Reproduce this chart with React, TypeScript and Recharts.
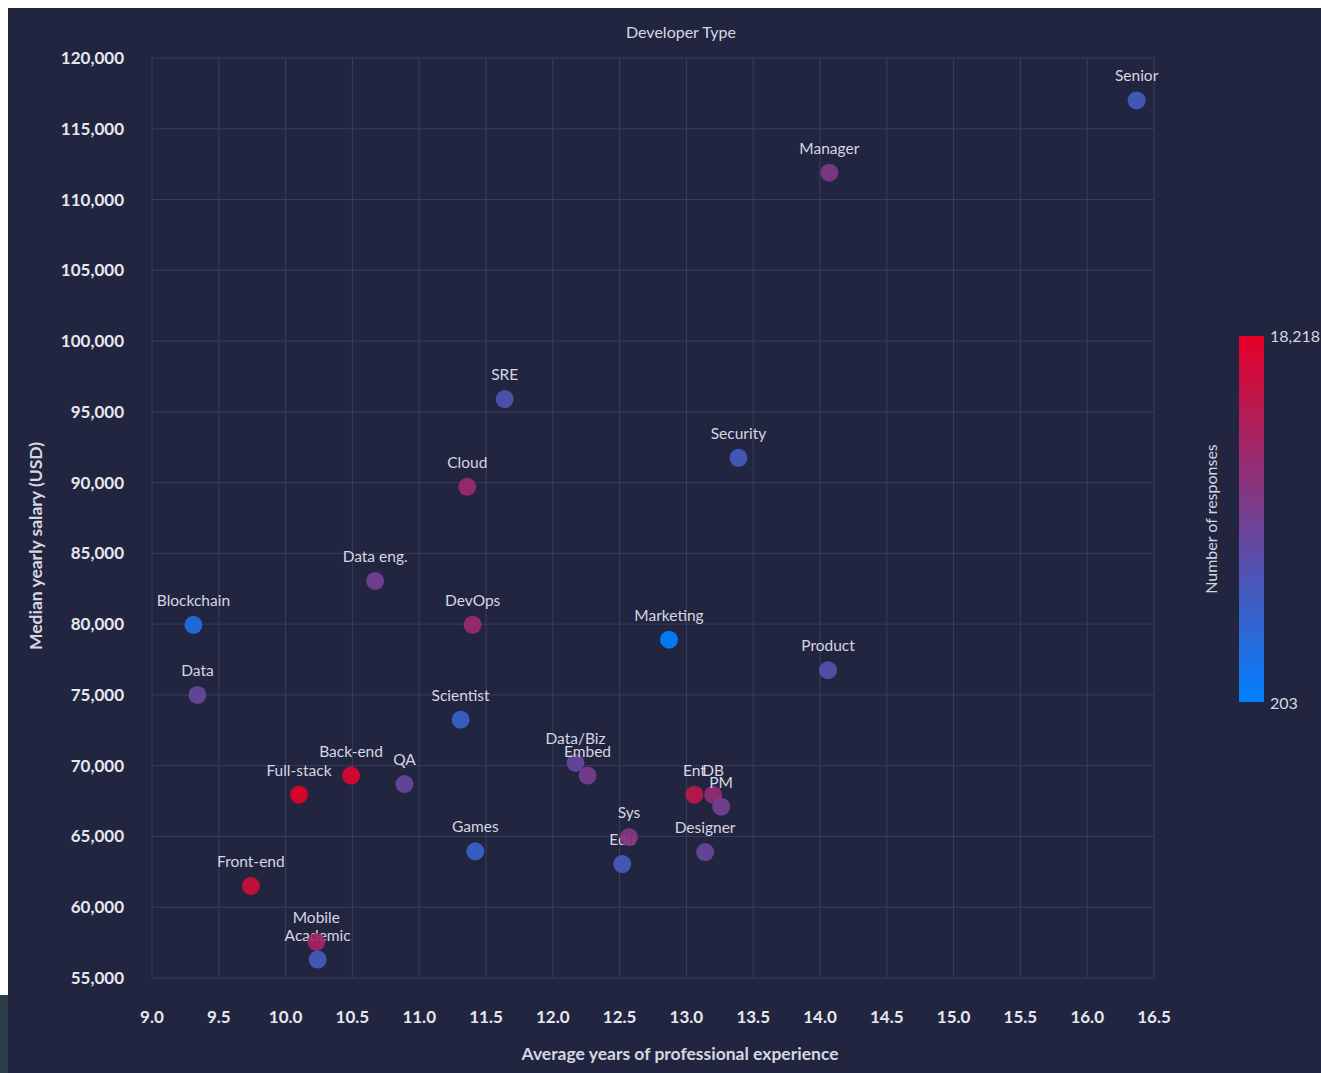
import React from "react";
import { ScatterChart, Scatter, XAxis, YAxis, CartesianGrid } from "recharts";

const names = [
  "Senior", "Manager", "SRE", "Security", "Cloud", "Data eng.", "Blockchain", "DevOps",
  "Marketing", "Product", "Data", "Scientist", "Data/Biz", "Embed", "Back-end", "QA",
  "Full-stack", "DB", "Ent", "PM", "Edu", "Sys", "Designer", "Games", "Front-end",
  "Academic", "Mobile",
];
const years = [
  16.37, 14.07, 11.64, 13.39, 11.36, 10.67, 9.31, 11.4,
  12.87, 14.06, 9.34, 11.31, 12.17, 12.26, 10.49, 10.89,
  10.1, 13.2, 13.06, 13.26, 12.52, 12.57, 13.14, 11.42, 9.74,
  10.24, 10.23,
];
const salaries = [
  117000, 111900, 95900, 91750, 89700, 83050, 79950, 79950,
  78900, 76750, 75000, 73250, 70200, 69300, 69300, 68700,
  67950, 67950, 67950, 67100, 63050, 64950, 63900, 63950, 61500,
  56300, 57550,
];
const responses = [
  5600, 10100, 6500, 5600, 12450, 9200, 2550, 12450,
  203, 7050, 8300, 4700, 8300, 9570, 17500, 8300,
  18218, 11900, 14975, 9200, 5600, 10650, 8300, 4700, 16400,
  5600, 13170,
];
const xTicks = [9.0, 9.5, 10.0, 10.5, 11.0, 11.5, 12.0, 12.5, 13.0, 13.5, 14.0, 14.5, 15.0, 15.5, 16.0, 16.5];
const yTicks = [55000, 60000, 65000, 70000, 75000, 80000, 85000, 90000, 95000, 100000, 105000, 110000, 115000, 120000];
const minResponses = 203;
const maxResponses = 18218;

const data = names.map((n, i) => ({ name: n, x: years[i], y: salaries[i], count: responses[i] }));

const LOW = [0, 128, 255];
const HIGH = [230, 0, 38];
function colorFor(count: number) {
  const t = Math.max(0, Math.min(1, (count - minResponses) / (maxResponses - minResponses)));
  const c = LOW.map((l, i) => Math.round(l + (HIGH[i] - l) * t));
  return `rgb(${c[0]},${c[1]},${c[2]})`;
}

const FONT = "Lato, 'Noto Sans', sans-serif";
const BG = "#22253f";
const GRID = "#3a3e5c";

const PointShape = (props: any) => {
  const { cx, cy, payload } = props;
  if (cx == null || cy == null) return null;
  return (
    <g>
      <circle cx={cx} cy={cy} r={9} fill={colorFor(payload.count)} fillOpacity={0.92} />
      <text x={cx} y={cy - 19} textAnchor="middle" fill="#d6d7e0" fontSize={15.5} fontFamily={FONT}>
        {payload.name}
      </text>
    </g>
  );
};

export default function App() {
  return (
    <>
      <div style={{ position: "absolute", left: 8, top: 8, width: 1313, height: 1065, background: BG, fontFamily: FONT, overflow: "hidden" }}>
        <ScatterChart width={1313} height={1065} margin={{ top: 50, right: 167, bottom: 0, left: 0 }}>
          <CartesianGrid stroke={GRID} strokeWidth={1} />
          <XAxis
            type="number"
            dataKey="x"
            domain={[9, 16.5]}
            ticks={xTicks}
            tickFormatter={(v: number) => v.toFixed(1)}
            height={95}
            axisLine={false}
            tickLine={false}
            tickSize={0}
            tickMargin={33}
            tick={{ fill: "#e6e7ee", fontSize: 17, fontWeight: 700, fontFamily: FONT }}
          />
          <YAxis
            type="number"
            dataKey="y"
            domain={[55000, 120000]}
            ticks={yTicks}
            tickFormatter={(v: number) => v.toLocaleString("en-US")}
            width={144}
            axisLine={false}
            tickLine={false}
            tickSize={0}
            tickMargin={28}
            tick={{ fill: "#e6e7ee", fontSize: 17, fontWeight: 700, fontFamily: FONT }}
          />
          <Scatter data={data} shape={PointShape} isAnimationActive={false} />
        </ScatterChart>

        <div style={{ position: "absolute", left: 673, top: 23, transform: "translate(-50%,-50%)", color: "#d6d7e0", fontSize: 16, whiteSpace: "nowrap" }}>
          Developer Type
        </div>
        <div style={{ position: "absolute", left: 672, top: 1045, transform: "translate(-50%,-50%)", color: "#d6d7e0", fontSize: 17.5, fontWeight: 700, whiteSpace: "nowrap" }}>
          Average years of professional experience
        </div>
        <div style={{ position: "absolute", left: 27, top: 538, transform: "translate(-50%,-50%) rotate(-90deg)", color: "#d6d7e0", fontSize: 17.5, fontWeight: 700, whiteSpace: "nowrap" }}>
          Median yearly salary (USD)
        </div>

        <div style={{ position: "absolute", left: 1231, top: 328, width: 25, height: 366, background: `linear-gradient(to top, ${colorFor(minResponses)}, ${colorFor(maxResponses)})` }} />
        <div style={{ position: "absolute", left: 1262, top: 327, transform: "translateY(-50%)", color: "#d6d7e0", fontSize: 16, whiteSpace: "nowrap" }}>
          {maxResponses.toLocaleString("en-US")}
        </div>
        <div style={{ position: "absolute", left: 1262, top: 694, transform: "translateY(-50%)", color: "#d6d7e0", fontSize: 16, whiteSpace: "nowrap" }}>
          {minResponses.toLocaleString("en-US")}
        </div>
        <div style={{ position: "absolute", left: 1202, top: 511, transform: "translate(-50%,-50%) rotate(-90deg)", color: "#d6d7e0", fontSize: 16, whiteSpace: "nowrap" }}>
          Number of responses
        </div>
      </div>
      <div style={{ position: "absolute", left: 0, top: 995, width: 8, height: 78, background: "#2c3d4a" }} />
    </>
  );
}
